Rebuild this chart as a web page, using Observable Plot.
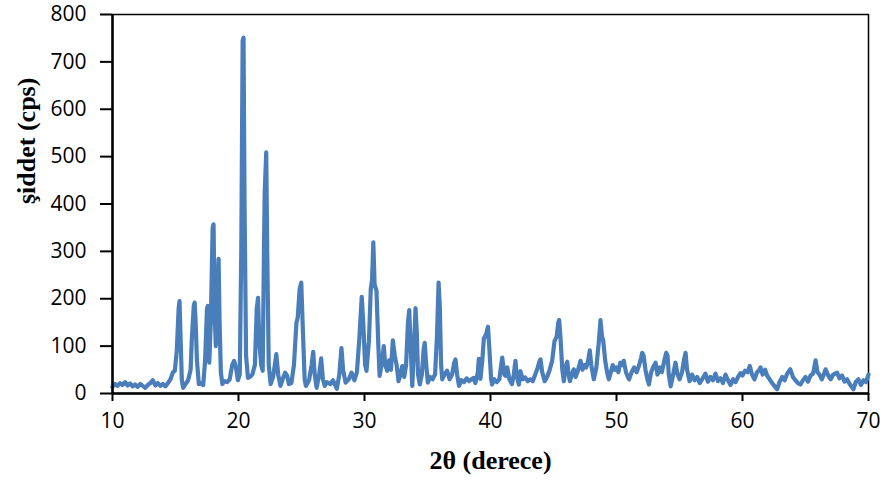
<!DOCTYPE html>
<html>
<head>
<meta charset="utf-8">
<script src="https://cdn.jsdelivr.net/npm/d3@7"></script>
<script src="https://cdn.jsdelivr.net/npm/@observablehq/plot@0.6"></script>
<style>
  html, body { margin: 0; padding: 0; background: #ffffff; }
  #chart { width: 887px; height: 489px; }
</style>
</head>
<body>
<div id="chart"></div>
<script>
// 2θ (degrees) and intensity (cps)
const pattern = [
  [10.0,14],[10.2,20],[10.4,16],[10.6,22],[10.8,18],[11.0,24],[11.2,17],[11.4,21],[11.6,15],[11.8,19],
  [12.0,14],[12.2,20],[12.4,16],[12.6,12],[12.8,18],[13.0,22],[13.2,28],[13.4,17],[13.6,22],[13.8,16],
  [14.0,20],[14.2,15],[14.4,22],[14.6,30],[14.8,45],[14.95,48],[15.1,90],[15.25,180],[15.32,195],[15.4,120],
  [15.5,30],[15.6,12],[15.8,20],[16.0,28],[16.2,50],[16.3,118],[16.45,185],[16.52,192],[16.6,150],[16.7,70],
  [16.85,20],[17.0,22],[17.2,18],[17.35,70],[17.5,180],[17.58,185],[17.68,65],[17.8,150],[17.95,350],[18.02,357],
  [18.12,160],[18.2,100],[18.3,200],[18.42,284],[18.5,150],[18.6,45],[18.72,20],[18.9,26],[19.1,24],[19.3,30],
  [19.5,60],[19.65,69],[19.8,55],[19.95,28],[20.1,40],[20.22,300],[20.33,745],[20.4,751],[20.48,400],[20.6,80],
  [20.75,33],[20.9,35],[21.1,40],[21.3,60],[21.45,180],[21.55,202],[21.65,110],[21.8,60],[21.92,48],[22.02,300],
  [22.08,424],[22.2,509],[22.28,300],[22.4,60],[22.55,20],[22.75,35],[23.0,83],[23.15,40],[23.33,16],[23.5,30],
  [23.7,44],[23.85,38],[24.0,20],[24.2,22],[24.4,60],[24.6,150],[24.7,160],[24.85,220],[24.98,234],[25.1,140],
  [25.25,30],[25.35,16],[25.6,28],[25.8,60],[25.93,88],[26.05,40],[26.2,12],[26.4,40],[26.56,74],[26.7,30],
  [26.85,16],[27.0,24],[27.3,20],[27.5,28],[27.8,10],[28.0,40],[28.17,96],[28.3,50],[28.5,23],[28.75,30],
  [28.97,44],[29.2,28],[29.4,45],[29.6,120],[29.78,204],[29.9,150],[30.05,60],[30.16,48],[30.35,110],[30.5,221],
  [30.6,240],[30.7,319],[30.8,230],[30.95,217],[31.1,100],[31.2,37],[31.35,60],[31.53,100],[31.65,60],[31.8,48],
  [31.95,70],[32.1,50],[32.25,112],[32.4,80],[32.55,60],[32.7,26],[32.85,40],[33.0,58],[33.15,35],[33.3,60],
  [33.45,150],[33.55,176],[33.68,90],[33.79,16],[33.92,90],[34.05,180],[34.15,130],[34.25,40],[34.39,19],[34.55,40],
  [34.7,95],[34.78,107],[34.9,60],[35.03,23],[35.2,35],[35.4,30],[35.6,40],[35.75,120],[35.88,234],[35.98,180],
  [36.08,60],[36.17,30],[36.35,40],[36.56,48],[36.75,30],[36.95,40],[37.12,65],[37.22,72],[37.35,40],[37.5,16],
  [37.7,28],[37.9,24],[38.1,32],[38.3,26],[38.5,30],[38.65,33],[38.8,22],[39.0,45],[39.07,73],[39.2,31],
  [39.35,70],[39.47,115],[39.65,125],[39.8,141],[39.92,90],[40.05,30],[40.13,19],[40.3,30],[40.5,24],[40.7,30],
  [40.93,76],[41.1,40],[41.2,37],[41.33,55],[41.5,30],[41.7,20],[41.85,40],[41.98,69],[42.1,35],[42.25,19],
  [42.38,47],[42.55,30],[42.75,34],[42.95,26],[43.15,30],[43.35,26],[43.55,40],[43.75,55],[43.9,69],[43.97,72],
  [44.1,45],[44.3,26],[44.5,35],[44.7,50],[44.9,70],[45.08,111],[45.25,120],[45.38,150],[45.45,155],[45.55,120],
  [45.7,50],[45.82,26],[45.95,55],[46.09,67],[46.2,40],[46.3,26],[46.45,40],[46.61,51],[46.75,35],[46.9,45],
  [47.0,55],[47.14,69],[47.3,50],[47.45,60],[47.6,55],[47.75,70],[47.88,91],[48.0,60],[48.2,30],[48.4,55],
  [48.6,110],[48.73,155],[48.85,120],[48.94,113],[49.1,70],[49.25,45],[49.39,30],[49.55,45],[49.7,60],[49.85,50],
  [50.0,55],[50.15,45],[50.3,65],[50.45,60],[50.58,69],[50.75,45],[50.9,35],[51.0,30],[51.2,45],[51.4,55],
  [51.6,45],[51.8,60],[51.95,75],[52.04,86],[52.15,80],[52.3,50],[52.45,30],[52.57,19],[52.75,45],[52.9,55],
  [53.1,65],[53.25,40],[53.45,55],[53.6,45],[53.8,70],[53.95,86],[54.05,80],[54.15,40],[54.3,15],[54.5,40],
  [54.68,65],[54.85,40],[55.0,30],[55.2,45],[55.35,70],[55.48,86],[55.6,50],[55.8,26],[56.0,40],[56.2,28],
  [56.4,35],[56.6,22],[56.8,30],[57.06,42],[57.25,25],[57.45,35],[57.65,28],[57.86,42],[58.05,26],[58.25,32],
  [58.45,22],[58.65,40],[58.85,28],[59.05,18],[59.25,30],[59.45,24],[59.65,35],[59.84,43],[60.0,38],[60.2,48],
  [60.4,45],[60.58,58],[60.75,40],[60.95,30],[61.15,45],[61.3,48],[61.43,55],[61.6,40],[61.8,50],[61.95,38],
  [62.15,30],[62.35,22],[62.55,15],[62.75,9],[62.95,25],[63.15,35],[63.35,28],[63.55,42],[63.8,51],[64.0,35],
  [64.2,28],[64.4,22],[64.6,19],[64.8,28],[65.0,35],[65.2,25],[65.4,38],[65.6,42],[65.8,70],[65.95,45],
  [66.1,40],[66.3,30],[66.45,40],[66.6,51],[66.8,38],[67.0,30],[67.2,40],[67.5,44],[67.7,32],[67.9,38],
  [68.1,25],[68.3,30],[68.5,20],[68.8,9],[69.0,25],[69.2,30],[69.4,18],[69.6,28],[69.8,24],[70.0,40]
];

const xTicks = [10, 20, 30, 40, 50, 60, 70];
const yTicks = [0, 100, 200, 300, 400, 500, 600, 700, 800];
const xTitle = "2θ (derece)";
const yTitle = "şiddet (cps)";

const tickFont = "'Open Sans', 'Liberation Sans', sans-serif";
const titleFont = "'Liberation Serif', 'DejaVu Serif', serif";

const chart = Plot.plot({
  width: 887,
  height: 489,
  marginLeft: 112,
  marginRight: 19,
  marginTop: 14,
  marginBottom: 96,
  style: { background: "#ffffff", overflow: "visible" },
  x: { domain: [10, 70] },
  y: { domain: [0, 800] },
  marks: [
    Plot.frame({ stroke: "#000", strokeWidth: 1.5 }),
    Plot.line(pattern, {
      x: d => d[0], y: d => d[1],
      stroke: "#4a7ebb", strokeWidth: 4.2,
      strokeLinejoin: "round", strokeLinecap: "round"
    }),
    Plot.ruleX([10], { stroke: "#000", strokeWidth: 2.5 }),
    Plot.ruleY([0], { stroke: "#000", strokeWidth: 2.5 }),
    Plot.axisX({
      ticks: xTicks, tickSize: 8, tickPadding: 12, label: null,
      fontSize: 21, fontFamily: tickFont, fill: "#000", stroke: "#000", strokeWidth: 2
    }),
    Plot.axisY({
      ticks: yTicks, tickSize: 12, tickPadding: 14, label: null,
      fontSize: 21, fontFamily: tickFont, fill: "#000", stroke: "#000", strokeWidth: 2
    }),
    Plot.text([xTitle], {
      frameAnchor: "bottom", dy: 75, text: d => d,
      fontSize: 26, fontWeight: "bold", fontFamily: titleFont, fill: "#000"
    }),
    Plot.text([yTitle], {
      frameAnchor: "left", dx: -86, rotate: -90, text: d => d,
      fontSize: 26, fontWeight: "bold", fontFamily: titleFont, fill: "#000"
    })
  ]
});

document.getElementById("chart").appendChild(chart);
</script>
</body>
</html>
